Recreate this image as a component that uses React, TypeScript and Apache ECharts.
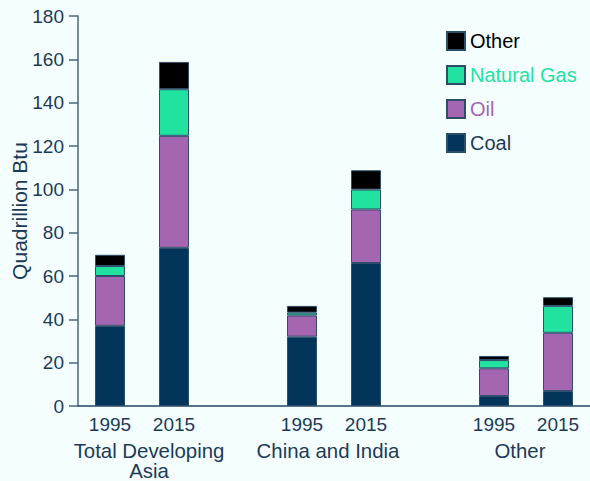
import React, { useEffect, useRef } from "react";
import * as echarts from "echarts";

const categories = ["1995", "2015", "", "1995", "2015", "", "1995", "2015"];
const coal = [37, 73, null, 32, 66, null, 4.6, 6.9];
const oil = [23, 51.7, null, 9.8, 24.7, null, 12.8, 26.9];
const gas = [4.6, 21.5, null, 1.3, 9.2, null, 3.8, 12.4];
const other = [5.2, 12.6, null, 3.1, 8.9, null, 1.9, 4];
const groupNames = ["Total Developing\nAsia", "China and India", "Other"];
const groupPositions = [1, 4, 7];
const yTicks = { min: 0, max: 180, interval: 20 };

const COLORS = {
  Coal: "#023559",
  Oil: "#a566b1",
  "Natural Gas": "#22e2a0",
  Other: "#000000",
};
const TEXT = "#1b3a58";
const BG = "#f5fefe";
const FONT = "Liberation Sans, Arial, sans-serif";

export default function App() {
  const ref = useRef<HTMLDivElement>(null);
  useEffect(() => {
    document.body.style.margin = "0";
    document.body.style.background = BG;
    const chart = echarts.init(ref.current!, undefined, { renderer: "svg" });
    const mk = (name: string, data: (number | null)[]) => ({
      name,
      type: "bar",
      stack: "total",
      xAxisIndex: 0,
      yAxisIndex: 0,
      barWidth: 30,
      data,
      itemStyle: { color: (COLORS as any)[name], borderColor: "#2d4d6b", borderWidth: 1 },
    });
    const groupStyle = { color: TEXT, fontSize: 20.4, lineHeight: 20, fontFamily: FONT };
    chart.setOption({
      animation: false,
      backgroundColor: BG,
      textStyle: { fontFamily: FONT },
      grid: { left: 78, right: 0, top: 16, bottom: 75, containLabel: false, outerBoundsMode: "none" },
      legend: {
        orient: "vertical",
        left: 446,
        top: 31,
        padding: 0,
        icon: "rect",
        itemWidth: 18,
        itemHeight: 18,
        itemGap: 14,
        textStyle: { fontSize: 20, fontFamily: FONT },
        data: [
          { name: "Other", textStyle: { color: "#000000" } },
          { name: "Natural Gas", textStyle: { color: "#22e2a0" } },
          { name: "Oil", textStyle: { color: "#a566b1" } },
          { name: "Coal", textStyle: { color: TEXT } },
        ],
      },
      xAxis: [
        {
          type: "category",
          data: categories,
          axisLine: { show: true, lineStyle: { color: "#23435f", width: 1.5 } },
          axisTick: { show: false },
          axisLabel: { color: TEXT, fontSize: 19, margin: 9, interval: 0 },
        },
        {
          type: "value",
          min: 0,
          max: 8,
          interval: 1,
          position: "bottom",
          offset: 29,
          axisLine: { show: false },
          axisTick: { show: false },
          splitLine: { show: false },
          axisLabel: {
            color: TEXT,
            fontSize: 20.4,
            lineHeight: 20,
            margin: 6,
            showMinLabel: true,
            showMaxLabel: true,
            rich: {
              r: { ...groupStyle, padding: [0, 0, 0, 14] },
              l: { ...groupStyle, padding: [0, 12, 0, 0] },
            },
            formatter: (v: number) => {
              const i = groupPositions.indexOf(Math.round(v));
              if (i < 0) return "";
              const tag = i === 0 ? "r" : "l";
              return groupNames[i]
                .split("\n")
                .map((s) => `{${tag}|${s}}`)
                .join("\n");
            },
          },
        },
      ],
      yAxis: {
        type: "value",
        min: yTicks.min,
        max: yTicks.max,
        interval: yTicks.interval,
        name: "Quadrillion Btu",
        nameLocation: "middle",
        nameGap: 48,
        nameMoveOverlap: false,
        nameTextStyle: { color: TEXT, fontSize: 21 },
        axisLine: { show: true, lineStyle: { color: "#4a6680", width: 1.5 } },
        axisTick: { show: true, inside: false, length: 9, lineStyle: { color: "#4a6680", width: 1.5 } },
        axisLabel: { color: TEXT, fontSize: 19, margin: 14 },
        splitLine: { show: false },
      },
      series: [mk("Coal", coal), mk("Oil", oil), mk("Natural Gas", gas), mk("Other", other)],
    });
    return () => chart.dispose();
  }, []);
  return <div ref={ref} style={{ width: 590, height: 481 }} />;
}
